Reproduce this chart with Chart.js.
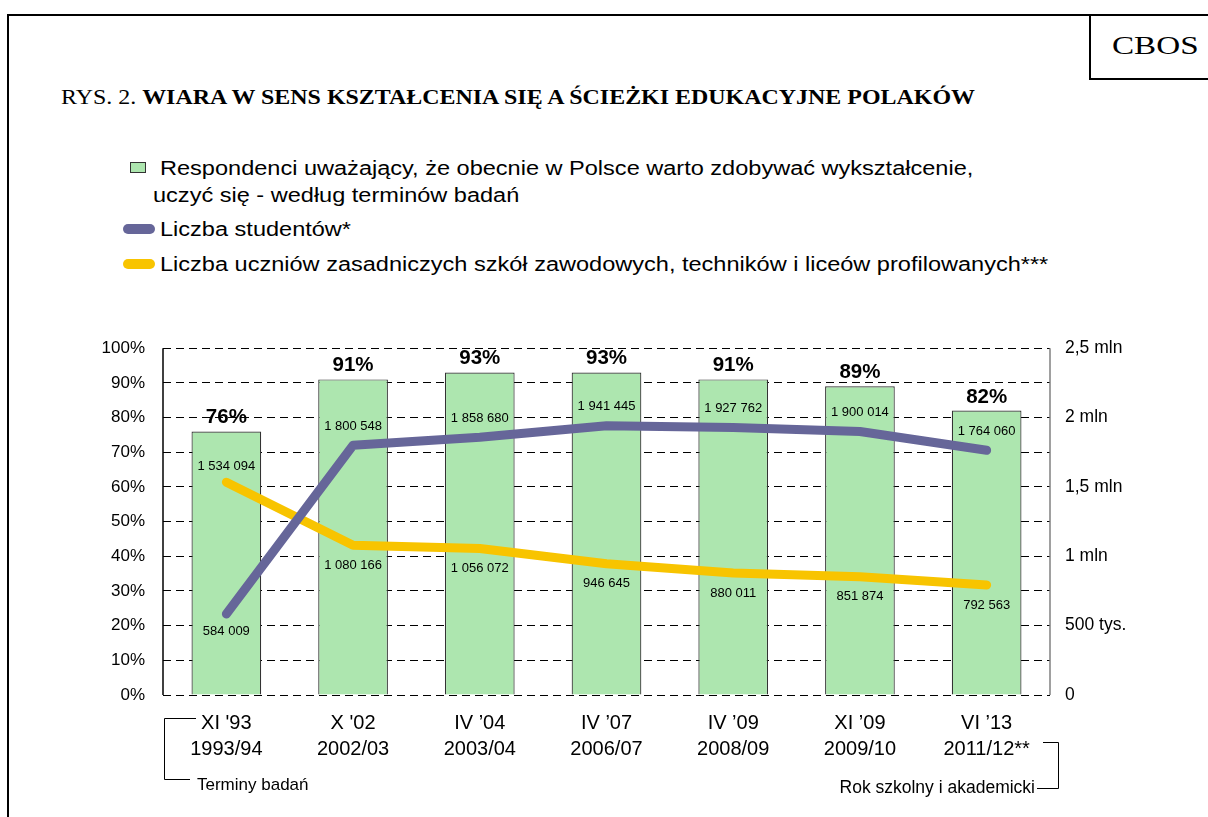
<!DOCTYPE html>
<html>
<head>
<meta charset="utf-8">
<script src="https://cdn.jsdelivr.net/npm/chart.js@4.4.0/dist/chart.umd.min.js"></script>
<style>
  body { margin:0; width:1208px; height:817px; background:#fff; overflow:hidden; position:relative; font-family:"Liberation Sans", Arial, sans-serif; }
  .frame { position:absolute; left:7px; top:14px; width:1210px; height:820px; border-top:2px solid #000; border-left:2px solid #000; }
  .cbosbox { position:absolute; left:1089px; top:14px; width:130px; height:66px; border:2px solid #000; box-sizing:border-box; }
  .cbos { position:absolute; left:1112px; top:31px; font:25.5px "Liberation Serif", serif; transform:scaleX(1.3); transform-origin:0 0; white-space:nowrap; }
  .title { position:absolute; left:61px; top:84.5px; font:21px "Liberation Serif", serif; white-space:nowrap; transform:scaleX(1.14); transform-origin:0 0; }
  .legend div { position:absolute; }
  .txt { font-size:19.5px; white-space:nowrap; transform:scaleX(1.207); transform-origin:0 0; }
  .sq { left:130px; top:162px; width:14px; height:9px; background:#ade6af; border:1.5px solid #333; }
  .ln { left:123px; width:32px; height:10px; border-radius:5px; }
</style>
</head>
<body>
<div class="frame"></div>
<div class="cbosbox"></div>
<div class="cbos">CBOS</div>
<div class="title">RYS. 2. <b>WIARA W SENS KSZTAŁCENIA SIĘ A ŚCIEŻKI EDUKACYJNE POLAKÓW</b></div>
<div class="legend">
  <div class="sq"></div>
  <div class="txt" style="left:160px; top:157px;">Respondenci uważający, że obecnie w Polsce warto zdobywać wykształcenie,</div>
  <div class="txt" style="left:153px; top:184px;">uczyć się - według terminów badań</div>
  <div class="ln" style="top:224px; background:#666699;"></div>
  <div class="txt" style="left:160px; top:218px;">Liczba studentów*</div>
  <div class="ln" style="top:259px; background:#f8c400;"></div>
  <div class="txt" style="left:160px; top:253px;">Liczba uczniów zasadniczych szkół zawodowych, techników i liceów profilowanych***</div>
</div>
<div style="position:absolute; left:0; top:320px; width:1208px; height:497px;"><canvas id="chart"></canvas></div>
<script>
const surveyDates = ["XI '93", "X '02", "IV ’04", "IV ’07", "IV ’09", "XI ’09", "VI ’13"];
const schoolYears = ["1993/94", "2002/03", "2003/04", "2006/07", "2008/09", "2009/10", "2011/12**"];
const worthLearning = [76, 91, 93, 93, 91, 89, 82];
const students = [584009, 1800548, 1858680, 1941445, 1927762, 1900014, 1764060];
const vocational = [1534094, 1080166, 1056072, 946645, 880011, 851874, 792563];
const rightTicks = {0: "0", 500000: "500 tys.", 1000000: "1 mln", 1500000: "1,5 mln", 2000000: "2 mln", 2500000: "2,5 mln"};

const green = '#ade6af', purple = '#666699', yellow = '#f8c400';
const FONT = '"Liberation Sans", Arial, sans-serif';

function fmt(n) {
  return String(n).replace(/\B(?=(\d{3})+(?!\d))/g, ' ');
}

const labelsPlugin = {
  id: 'labels',
  afterDatasetsDraw(chart) {
    const ctx = chart.ctx;
    ctx.save();
    ctx.fillStyle = '#000';
    ctx.textAlign = 'center';
    // percent above bars
    ctx.font = 'bold 20.5px ' + FONT;
    ctx.textBaseline = 'alphabetic';
    chart.getDatasetMeta(2).data.forEach((bar, i) => {
      ctx.fillText(worthLearning[i] + '%', bar.x, bar.y - 8);
    });
    // values along the lines
    ctx.font = '13px ' + FONT;
    ctx.textBaseline = 'middle';
    chart.getDatasetMeta(0).data.forEach((p, i) => {
      const dy = i === 0 ? 17 : -19;
      ctx.fillText(fmt(students[i]), p.x, p.y + dy);
    });
    chart.getDatasetMeta(1).data.forEach((p, i) => {
      const dy = i === 0 ? -16 : 20;
      ctx.fillText(fmt(vocational[i]), p.x, p.y + dy);
    });
    ctx.restore();
  },
  afterDraw(chart) {
    const ctx = chart.ctx;
    const a = chart.chartArea;
    ctx.save();
    // side edges of the plot
    ctx.lineWidth = 1.5;
    ctx.strokeStyle = '#000';
    ctx.beginPath();
    ctx.moveTo(a.left, a.top); ctx.lineTo(a.left, a.bottom);
    ctx.stroke();
    ctx.strokeStyle = '#808080';
    ctx.beginPath();
    ctx.moveTo(a.right, a.top); ctx.lineTo(a.right, a.bottom);
    ctx.stroke();
    // brackets under the axis
    ctx.lineWidth = 1;
    ctx.strokeStyle = '#000';
    ctx.beginPath();
    ctx.moveTo(a.left + 33, a.bottom + 23.5);
    ctx.lineTo(a.left + 1.5, a.bottom + 23.5);
    ctx.lineTo(a.left + 1.5, a.bottom + 84.5);
    ctx.lineTo(a.left + 27, a.bottom + 84.5);
    ctx.stroke();
    ctx.beginPath();
    ctx.moveTo(a.right - 7, a.bottom + 47.5);
    ctx.lineTo(a.right + 8.5, a.bottom + 47.5);
    ctx.lineTo(a.right + 8.5, a.bottom + 93.5);
    ctx.lineTo(a.right - 13, a.bottom + 93.5);
    ctx.stroke();
    ctx.fillStyle = '#000';
    ctx.textBaseline = 'middle';
    ctx.textAlign = 'left';
    ctx.font = '17px ' + FONT;
    ctx.fillText('Terminy badań', a.left + 34, a.bottom + 90);
    ctx.textAlign = 'right';
    ctx.font = '17.5px ' + FONT;
    ctx.fillText('Rok szkolny i akademicki', a.right - 15, a.bottom + 93);
    ctx.restore();
  }
};

new Chart(document.getElementById('chart'), {
  data: {
    labels: surveyDates.map((d, i) => [d, schoolYears[i]]),
    datasets: [
      {
        type: 'line', label: 'Liczba studentów*', data: students, yAxisID: 'y1',
        borderColor: purple, borderWidth: 9, pointRadius: 0, tension: 0,
        borderCapStyle: 'round', borderJoinStyle: 'round', order: 1
      },
      {
        type: 'line', label: 'Liczba uczniów', data: vocational, yAxisID: 'y1',
        borderColor: yellow, borderWidth: 9, pointRadius: 0, tension: 0,
        borderCapStyle: 'round', borderJoinStyle: 'round', order: 2
      },
      {
        type: 'bar', label: 'Respondenci', data: worthLearning, yAxisID: 'y',
        backgroundColor: green, borderColor: '#333', borderWidth: 1.2,
        barPercentage: 0.55, categoryPercentage: 1, order: 3
      }
    ]
  },
  options: {
    responsive: true,
    maintainAspectRatio: false,
    animation: false,
    layout: { padding: { top: 27, left: 0, right: 0, bottom: 0 } },
    plugins: { legend: { display: false }, tooltip: { enabled: false } },
    scales: {
      x: {
        grid: { display: false, drawTicks: false },
        border: { display: false },
        ticks: { color: '#000', font: { family: FONT, size: 20, lineHeight: 1.3 }, padding: 15, maxRotation: 0, autoSkip: false },
        afterFit(scale) { scale.height = 122; }
      },
      y: {
        position: 'left', min: 0, max: 100,
        grid: { color: '#000', lineWidth: 1, drawTicks: false },
        border: { display: false, dash: [8, 5] },
        ticks: { stepSize: 10, color: '#000', font: { family: FONT, size: 17 }, padding: 18, callback: v => v + '%' },
        afterFit(scale) { scale.width = 163; }
      },
      y1: {
        position: 'right', min: 0, max: 2500000,
        grid: { drawOnChartArea: false, drawTicks: false },
        border: { display: false },
        ticks: { stepSize: 500000, color: '#000', font: { family: FONT, size: 17.5 }, padding: 15, callback: v => rightTicks[v] },
        afterFit(scale) { scale.width = 158; }
      }
    }
  },
  plugins: [labelsPlugin]
});
</script>
</body>
</html>
